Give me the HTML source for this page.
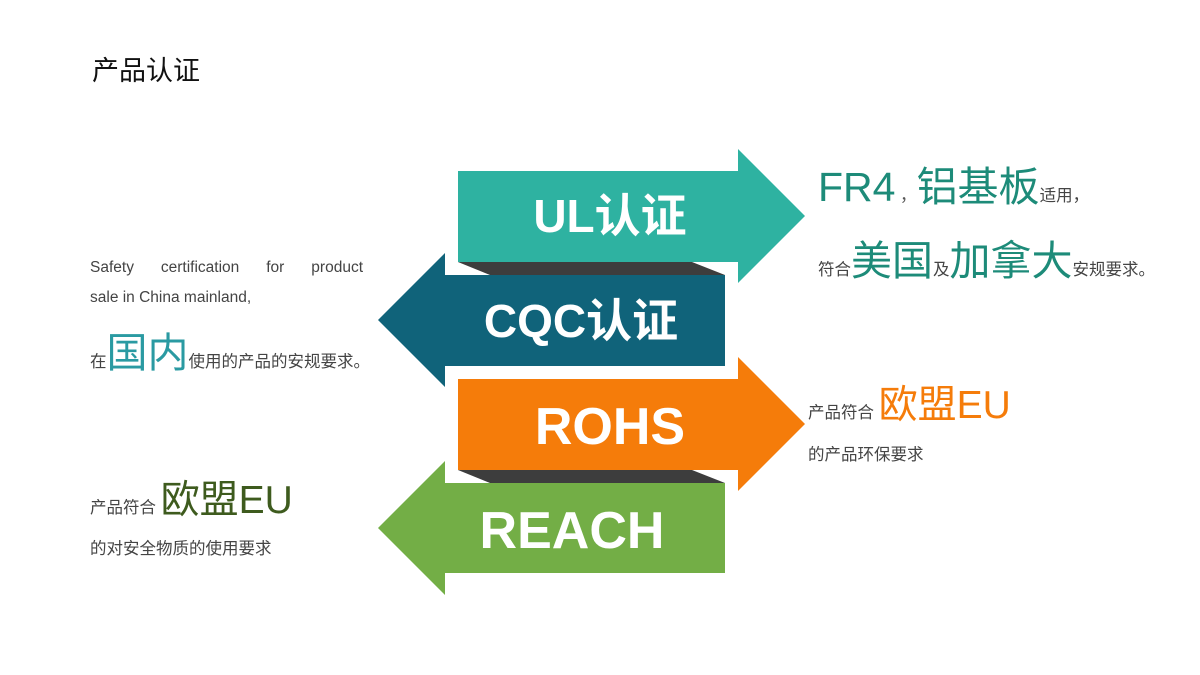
<!DOCTYPE html>
<html><head><meta charset="utf-8"><style>
body{margin:0;width:1200px;height:675px;background:#fff;position:relative;overflow:hidden;font-family:"Liberation Sans","Noto Sans CJK SC",sans-serif;}
.t{position:absolute;white-space:nowrap;color:#333;line-height:1;}
</style></head><body>
<div class="t" style="left:92px;top:58px;font-size:27px;color:#111;">产品认证</div>
<svg width="1200" height="675" style="position:absolute;left:0;top:0">
<polygon points="458,262 692,262 725,275 490,275" fill="#3d3d3d"/>
<polygon points="458,470 692,470 725,483 490,483" fill="#3d3d3d"/>
<polygon points="458,171 738,171 738,149 805,216 738,283 738,262 458,262" fill="#2eb2a1"/>
<polygon points="725,275 445,275 445,253 378,320 445,387 445,366 725,366" fill="#10637a"/>
<polygon points="458,379 738,379 738,357 805,424 738,491 738,470 458,470" fill="#f57c0a"/>
<polygon points="725,483 445,483 445,461 378,528 445,595 445,573 725,573" fill="#73ae46"/>
<g font-family="Liberation Sans,Noto Sans CJK SC,sans-serif" font-weight="bold" fill="#fff" text-anchor="middle">
<text x="610" y="232" font-size="46">UL认证</text>
<text x="581" y="337" font-size="46">CQC认证</text>
<text x="610" y="444" font-size="52">ROHS</text>
<text x="572" y="548" font-size="52">REACH</text>
</g>
</svg>
<div class="t" style="left:818px;top:167px;font-size:41px;color:#1d8b79;">FR4<span style="font-size:16.5px;color:#555;"> ，</span>铝基板<span style="font-size:16.5px;color:#444;">适用，</span></div>
<div class="t" style="left:818px;top:241px;font-size:41px;color:#1d8b79;"><span style="font-size:16.5px;color:#444;">符合</span>美国<span style="font-size:16.5px;color:#444;">及</span>加拿大<span style="font-size:16.5px;color:#444;">安规要求。</span></div>
<div class="t" style="left:808px;top:386px;font-size:39px;color:#f57c0a;"><span style="font-size:16.5px;color:#444;">产品符合 </span>欧盟EU</div>
<div class="t" style="left:808px;top:447px;font-size:16.5px;color:#444;">的产品环保要求</div>
<div class="t" style="left:90px;top:260px;width:273px;font-size:15.5px;color:#444;white-space:normal;text-align:justify;text-align-last:justify;">Safety certification for product</div>
<div class="t" style="left:90px;top:290px;font-size:15.5px;color:#444;">sale in China mainland,</div>
<div class="t" style="left:90px;top:333px;font-size:41px;color:#2a9aa2;"><span style="font-size:16.5px;color:#444;">在</span>国内<span style="font-size:16.5px;color:#444;">使用的产品的安规要求。</span></div>
<div class="t" style="left:90px;top:481px;font-size:39px;color:#3e5b1e;"><span style="font-size:16.5px;color:#444;">产品符合 </span>欧盟EU</div>
<div class="t" style="left:90px;top:541px;font-size:16.5px;color:#444;">的对安全物质的使用要求</div>
</body></html>
